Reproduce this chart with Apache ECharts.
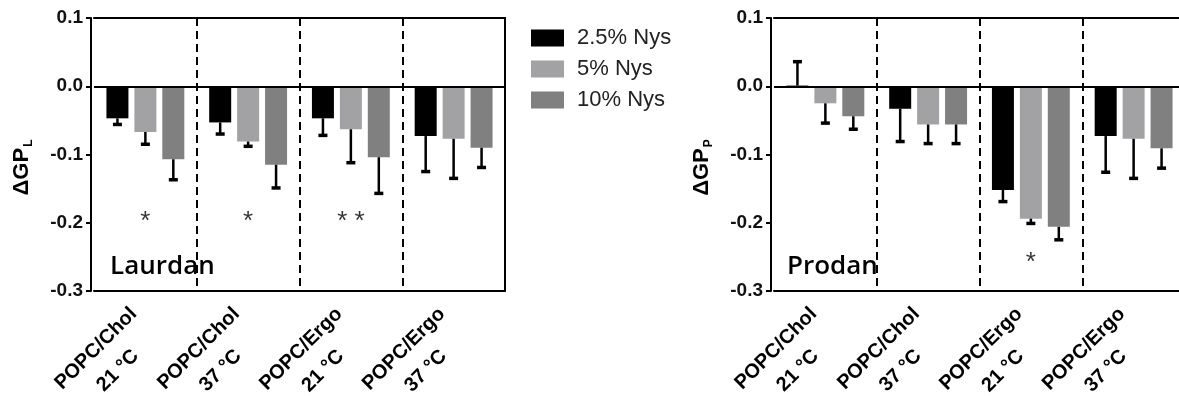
<!DOCTYPE html>
<html><head><meta charset="utf-8">
<script src="https://cdn.jsdelivr.net/npm/echarts@6/dist/echarts.min.js"></script>
<style>html,body{margin:0;padding:0;background:#fff}#c{width:1179px;height:396px}</style>
</head><body><div id="c"></div>
<script>
// ---------- data ----------
const categories = ['POPC/Chol\n21 °C', 'POPC/Chol\n37 °C', 'POPC/Ergo\n21 °C', 'POPC/Ergo\n37 °C'];
const seriesNames = ['2.5% Nys', '5% Nys', '10% Nys'];
const yMin = -0.3, yMax = 0.1, yStep = 0.1;

// Laurdan (ΔGP_L) means and one-sided errors
const laurdanNys25 = [-0.047, -0.053, -0.047, -0.073];
const laurdanNys5  = [-0.067, -0.081, -0.063, -0.077];
const laurdanNys10 = [-0.107, -0.115, -0.104, -0.090];
const laurdanErr25 = [0.009, 0.017, 0.025, 0.052];
const laurdanErr5  = [0.018, 0.007, 0.049, 0.058];
const laurdanErr10 = [0.030, 0.034, 0.053, 0.029];

// Prodan (ΔGP_P) means and one-sided errors
const prodanNys25 = [0.001, -0.033, -0.152, -0.073];
const prodanNys5  = [-0.025, -0.056, -0.194, -0.077];
const prodanNys10 = [-0.044, -0.056, -0.206, -0.091];
const prodanErr25 = [0.035, 0.048, 0.017, 0.053];
const prodanErr5  = [0.029, 0.028, 0.007, 0.058];
const prodanErr10 = [0.019, 0.028, 0.019, 0.029];

// significance marks: [category index, value, text]
const sigLaurdan = [[0, -0.19, '*'], [1, -0.19, '*'], [2, -0.19, '* *']];
const sigProdan  = [[2, -0.25, '*']];

// ---------- style ----------
const colors = ['#000000', '#a2a2a4', '#808080'];
const FONT = 'Liberation Sans, Arial, sans-serif';
const BAR_W = 22, BAR_GAP = 0.27;

function makeAxes(gridIndex, sub) {
  const xMain = {
    type: 'category', gridIndex, data: categories, position: 'bottom',
    axisLine: { onZero: false, lineStyle: { color: '#000', width: 2 } },
    axisTick: { alignWithLabel: true, length: 6, lineStyle: { color: '#000', width: 2 } },
    axisLabel: {
      interval: 0, rotate: 45, margin: 26, padding: [6, 4, 0, 0],
      formatter: v => v.split('\n').map(s => '{c|' + s + '}').join('\n'),
      rich: { c: { align: 'center', fontSize: 20, fontWeight: 'bold', fontFamily: FONT, color: '#000', lineHeight: 31 } }
    },
    splitLine: { show: true, interval: i => i > 0, lineStyle: { color: '#000', width: 2, type: [8, 5] } }
  };
  const xTop = {
    type: 'category', gridIndex, data: categories, position: 'top',
    axisLine: { onZero: false, lineStyle: { color: '#000', width: 2 } },
    axisTick: { show: false }, axisLabel: { show: false }, splitLine: { show: false }
  };
  const yMain = {
    type: 'value', gridIndex, min: yMin, max: yMax, interval: yStep, offset: 3,
    name: '{a|ΔGP}{s|' + sub + '}', nameLocation: 'middle', nameRotate: 90, nameGap: 57,
    nameTextStyle: {
      padding: [0, 26, 0, 0],
      rich: {
        a: { fontSize: 22, fontWeight: 'bold', fontFamily: FONT, color: '#000', lineHeight: 24 },
        s: { fontSize: 12, fontWeight: 'bold', fontFamily: FONT, color: '#000', lineHeight: 12, padding: [13, 0, 0, 1] }
      }
    },
    axisLine: { show: true, onZero: false, lineStyle: { color: '#000', width: 2 } },
    axisTick: { show: true, length: 5, lineStyle: { color: '#000', width: 2 } },
    axisLabel: { fontSize: 19, fontWeight: 'bold', fontFamily: FONT, color: '#111', margin: 8,
                 formatter: v => v.toFixed(1) },
    splitLine: { show: false }
  };
  const yRight = {
    type: 'value', gridIndex, min: yMin, max: yMax, interval: yStep, position: 'right',
    axisLine: { show: true, onZero: false, lineStyle: { color: '#000', width: 2 } },
    axisTick: { show: false }, axisLabel: { show: false }, splitLine: { show: false }
  };
  return { x: [xMain, xTop], y: [yMain, yRight] };
}

function errSeries(xi, yi, k, means, errs) {
  const off = (k - 1) * BAR_W * (1 + BAR_GAP);
  return {
    type: 'custom', xAxisIndex: xi, yAxisIndex: yi, z: 5, silent: true,
    data: means.map((m, i) => [i, m, errs[i]]),
    encode: { x: 0, y: 1 },
    renderItem: (params, api) => {
      const ci = api.value(0), m = api.value(1), e = api.value(2);
      const end = m >= 0 ? m + e : m - e;
      const p0 = api.coord([ci, m]);
      const p1 = api.coord([ci, end]);
      const x = p0[0] + off;
      return {
        type: 'group', children: [
          { type: 'line', shape: { x1: x, y1: p0[1], x2: x, y2: p1[1] }, style: { stroke: '#000', lineWidth: 2.5 } },
          { type: 'line', shape: { x1: x - 4.5, y1: p1[1], x2: x + 4.5, y2: p1[1] }, style: { stroke: '#000', lineWidth: 3.5 } }
        ]
      };
    }
  };
}

function barSeries(xi, yi, k, means, withZero) {
  const s = {
    type: 'bar', name: seriesNames[k], xAxisIndex: xi, yAxisIndex: yi,
    data: means, barWidth: BAR_W, barGap: (BAR_GAP * 100) + '%',
    itemStyle: { color: colors[k] }, z: 3
  };
  if (withZero) {
    s.markLine = {
      silent: true, symbol: ['none', 'none'], label: { show: false },
      lineStyle: { color: '#000', width: 2, type: 'solid' },
      data: [{ yAxis: 0 }], z: 6
    };
  }
  return s;
}

function sigSeries(xi, yi, marks) {
  return {
    type: 'scatter', xAxisIndex: xi, yAxisIndex: yi, symbolSize: 0, silent: true,
    data: marks.map(d => ({ value: [d[0], d[1]], label: { formatter: d[2] } })),
    label: { show: true, position: 'inside', offset: [0, 6], fontSize: 26, fontFamily: FONT, color: '#000' }
  };
}

const A0 = makeAxes(0, 'L');
const A1 = makeAxes(1, 'P');

const option = {
  animation: false,
  backgroundColor: '#fff',
  grid: [
    { left: 94, right: 674, top: 18, bottom: 105, containLabel: false, outerBoundsMode: 'none' },
    { left: 774, right: -6, top: 18, bottom: 105, containLabel: false, outerBoundsMode: 'none' }
  ],
  xAxis: [A0.x[0], A0.x[1], A1.x[0], A1.x[1]],
  yAxis: [A0.y[0], A0.y[1], A1.y[0], A1.y[1]],
  legend: {
    data: seriesNames, orient: 'vertical', left: 531, top: 27, padding: 0,
    itemWidth: 33, itemHeight: 17, itemGap: 9, icon: 'rect',
    textStyle: { fontSize: 22, lineHeight: 22, color: '#222', fontFamily: FONT, padding: [0, 0, 0, 8] }
  },
  graphic: [
    { type: 'text', left: 110, top: 254, style: { text: 'Laurdan', font: '600 26px "Open Sans"', fill: '#000' } },
    { type: 'text', left: 787, top: 254, style: { text: 'Prodan', font: '600 26px "Open Sans"', fill: '#000' } }
  ],
  series: [
    barSeries(0, 0, 0, laurdanNys25, true),
    barSeries(0, 0, 1, laurdanNys5, false),
    barSeries(0, 0, 2, laurdanNys10, false),
    errSeries(0, 0, 0, laurdanNys25, laurdanErr25),
    errSeries(0, 0, 1, laurdanNys5, laurdanErr5),
    errSeries(0, 0, 2, laurdanNys10, laurdanErr10),
    sigSeries(0, 0, sigLaurdan),
    barSeries(2, 2, 0, prodanNys25, true),
    barSeries(2, 2, 1, prodanNys5, false),
    barSeries(2, 2, 2, prodanNys10, false),
    errSeries(2, 2, 0, prodanNys25, prodanErr25),
    errSeries(2, 2, 1, prodanNys5, prodanErr5),
    errSeries(2, 2, 2, prodanNys10, prodanErr10),
    sigSeries(2, 2, sigProdan)
  ]
};

const chart = echarts.init(document.getElementById('c'), null, { renderer: 'canvas' });
chart.setOption(option);
</script>
</body></html>
